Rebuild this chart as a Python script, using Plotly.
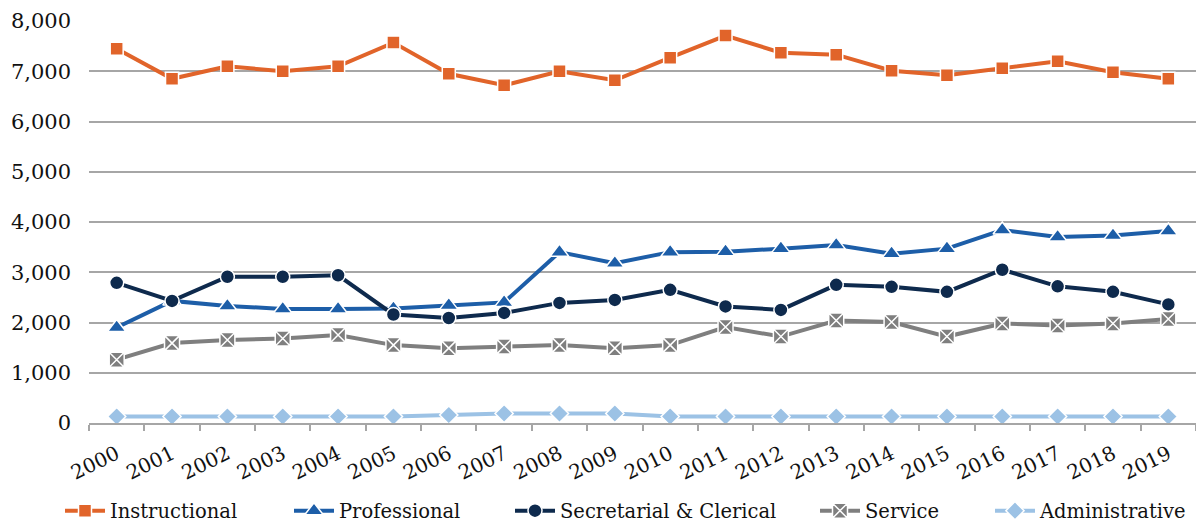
import plotly.graph_objects as go

years = [str(y) for y in range(2000, 2020)]

instructional = [7450, 6850, 7100, 7000, 7100, 7570, 6950, 6720, 7000, 6820,
                 7270, 7710, 7370, 7330, 7010, 6920, 7060, 7200, 6980, 6850]
professional = [1900, 2430, 2330, 2270, 2270, 2280, 2340, 2400, 3400, 3180,
                3400, 3410, 3470, 3540, 3370, 3470, 3840, 3700, 3730, 3820]
secretarial = [2790, 2430, 2910, 2910, 2940, 2160, 2090, 2190, 2390, 2450,
               2650, 2320, 2250, 2750, 2710, 2610, 3050, 2720, 2610, 2360]
service = [1260, 1590, 1650, 1680, 1750, 1550, 1490, 1520, 1550, 1490,
           1550, 1910, 1720, 2040, 2010, 1720, 1980, 1940, 1980, 2070]
administrative = [130, 130, 130, 130, 130, 130, 160, 190, 190, 190,
                  130, 130, 130, 130, 130, 130, 130, 130, 130, 130]

series = [
    ("Instructional", instructional, "#E1642A", "square", 13),
    ("Professional", professional, "#1D5EA8", "triangle-up", 16),
    ("Secretarial & Clerical", secretarial, "#0E2A4D", "circle", 14),
    ("Service", service, "#7F7F7F", "square-x", 15),
    ("Administrative", administrative, "#9CC2E5", "diamond", 14),
]

FONT = "DejaVu Serif"
W, H = 1196, 525
ML, MR, MT, MB = 89, 0, 21, 102
plot_w = W - ML - MR
plot_h = H - MT - MB

# horizontal pixel where each legend entry's box begins
legend_left_px = [60, 289, 510, 815, 990]
legend_mid_px = 511

fig = go.Figure()
layout_legends = {}
for i, (name, vals, color, sym, size) in enumerate(series):
    key = "legend" if i == 0 else f"legend{i + 1}"
    fig.add_trace(go.Scatter(
        x=years, y=vals, name=name, mode="lines+markers",
        line=dict(color=color, width=4),
        marker=dict(symbol=sym, size=size, color=color,
                    line=dict(color="white", width=1.5)),
        legend=key,
    ))
    layout_legends[key] = dict(
        x=(legend_left_px[i] - ML) / plot_w, xanchor="left",
        y=(H - MB - legend_mid_px) / plot_h, yanchor="middle",
        orientation="h", font=dict(size=19.5, family=FONT, color="#111111"),
        itemwidth=40, bgcolor="rgba(0,0,0,0)",
    )

fig.update_layout(
    width=W, height=H,
    margin=dict(l=ML, r=MR, t=MT, b=MB, autoexpand=False),
    paper_bgcolor="white", plot_bgcolor="white",
    font=dict(family=FONT, size=20, color="#111111"),
    showlegend=True,
    **layout_legends,
)
fig.update_xaxes(
    type="category", range=[-0.5, len(years) - 0.5],
    tickangle=-26, showgrid=False, automargin=False,
    showline=True, linecolor="#A6A6A6", linewidth=1.5,
    ticks="outside", tickson="boundaries", ticklen=6, tickcolor="#A6A6A6",
    tickwidth=1.5, ticklabelstandoff=10,
    tickfont=dict(size=20, family=FONT, color="#111111"),
)
fig.update_yaxes(
    range=[0, 8000], dtick=1000, tickformat=",", automargin=False,
    showgrid=True, gridcolor="#A6A6A6", gridwidth=1.5,
    zeroline=False, showline=False, ticks="", ticklabelstandoff=17,
    tickfont=dict(size=21, family=FONT, color="#111111"),
)

fig.write_html("out.html")
